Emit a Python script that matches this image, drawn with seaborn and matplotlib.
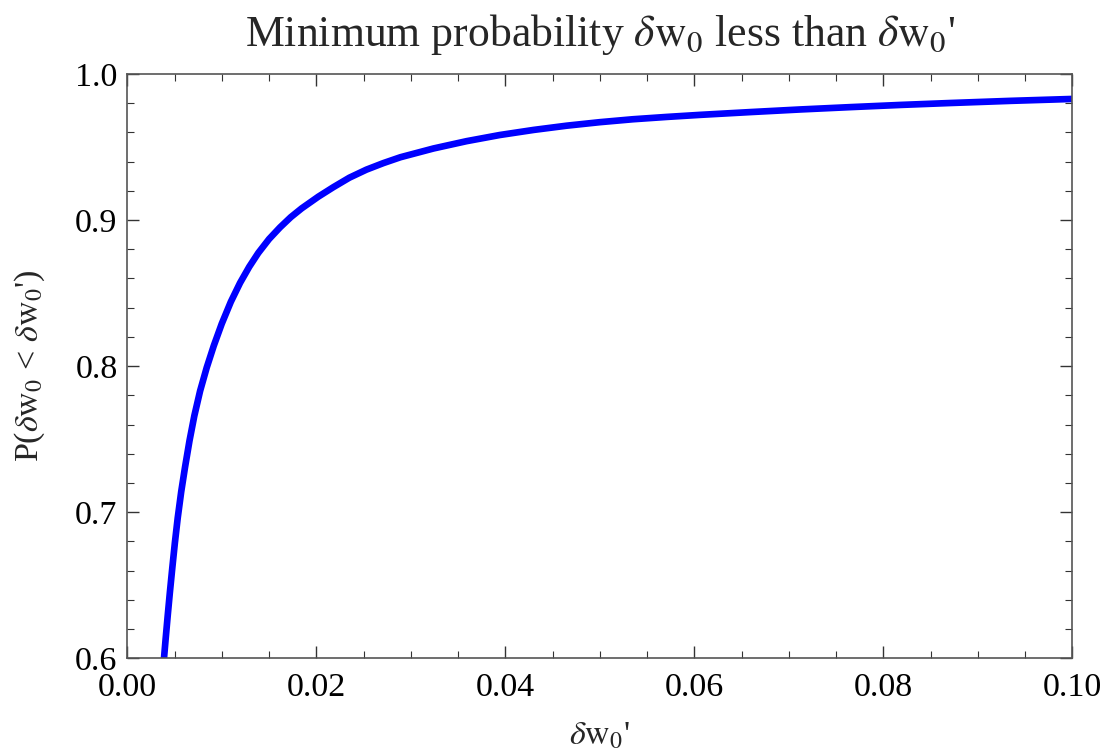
import numpy as np
import pandas as pd
import matplotlib
matplotlib.use("Agg")
import matplotlib.pyplot as plt
import seaborn as sns
from matplotlib.ticker import MultipleLocator, FormatStrFormatter

# ---------------- DATA ----------------
dw0_prime = [
    0.00388, 0.00405, 0.00427, 0.00450, 0.00476, 0.00503, 0.00533,
    0.00570, 0.00611, 0.00658, 0.00709, 0.00770, 0.00840, 0.00915,
    0.00999, 0.01095, 0.01193, 0.01290, 0.01386, 0.01500, 0.01616,
    0.01730, 0.01845, 0.02021, 0.0218, 0.0235, 0.0253, 0.0271,
    0.0289, 0.0324, 0.0359, 0.0394, 0.0430, 0.0465, 0.0500, 0.0535,
    0.0571, 0.0606, 0.0659, 0.0712, 0.0765, 0.0818, 0.0870, 0.0935,
    0.1000,
]
prob = [
    0.600, 0.613, 0.629, 0.645, 0.662, 0.679, 0.696,
    0.714, 0.731, 0.749, 0.766, 0.783, 0.799, 0.814,
    0.829, 0.844, 0.857, 0.868, 0.8775, 0.887, 0.895,
    0.902, 0.908, 0.916, 0.9225, 0.9290, 0.9345, 0.9390,
    0.9430, 0.9490, 0.9540, 0.9582, 0.9617, 0.9646, 0.9670, 0.9690,
    0.9706, 0.9720, 0.9739, 0.9757, 0.9773, 0.9788, 0.9801, 0.9816,
    0.9829,
]

df = pd.DataFrame({"dw0_prime": dw0_prime, "prob": prob})

# ---------------- STYLE ----------------
sns.set_style("ticks")
plt.rcParams["font.family"] = ["Liberation Serif", "DejaVu Serif"]
plt.rcParams["mathtext.fontset"] = "stix"

fig = plt.figure(figsize=(11.15, 7.54), dpi=100)
ax = fig.add_axes([0.1142, 0.1269, 0.8475, 0.775])

sns.lineplot(data=df, x="dw0_prime", y="prob", color="#0000ff",
             linewidth=4.8, ax=ax, solid_joinstyle="round")

ax.set_xlim(0, 0.1)
ax.set_ylim(0.6, 1.0)
ax.xaxis.set_major_locator(MultipleLocator(0.02))
ax.xaxis.set_minor_locator(MultipleLocator(0.005))
ax.yaxis.set_major_locator(MultipleLocator(0.1))
ax.yaxis.set_minor_locator(MultipleLocator(0.02))
ax.xaxis.set_major_formatter(FormatStrFormatter("%.2f"))
ax.yaxis.set_major_formatter(FormatStrFormatter("%.1f"))

ax.tick_params(which="both", direction="in", top=True, right=True,
               colors="#333333", labelcolor="black", labelsize=24.5)
ax.tick_params(which="major", length=8.5, width=1)
ax.tick_params(which="minor", length=5, width=0.8)
ax.tick_params(axis="x", which="major", pad=10)
ax.tick_params(axis="y", which="major", pad=7)

for s in ax.spines.values():
    s.set_color("#555555")
    s.set_linewidth(1.2)

ax.set_xlabel(r"$\delta\mathrm{w}_0$'", fontsize=24.5, labelpad=13)
ax.set_ylabel(r"P($\delta\mathrm{w}_0$ < $\delta\mathrm{w}_0$')", fontsize=24.5, labelpad=20)
ax.set_title(r"Minimum probability $\delta\mathrm{w}_0$ less than $\delta\mathrm{w}_0$'",
             fontsize=31.5, pad=20)

fig.savefig("out.png", dpi=100)
